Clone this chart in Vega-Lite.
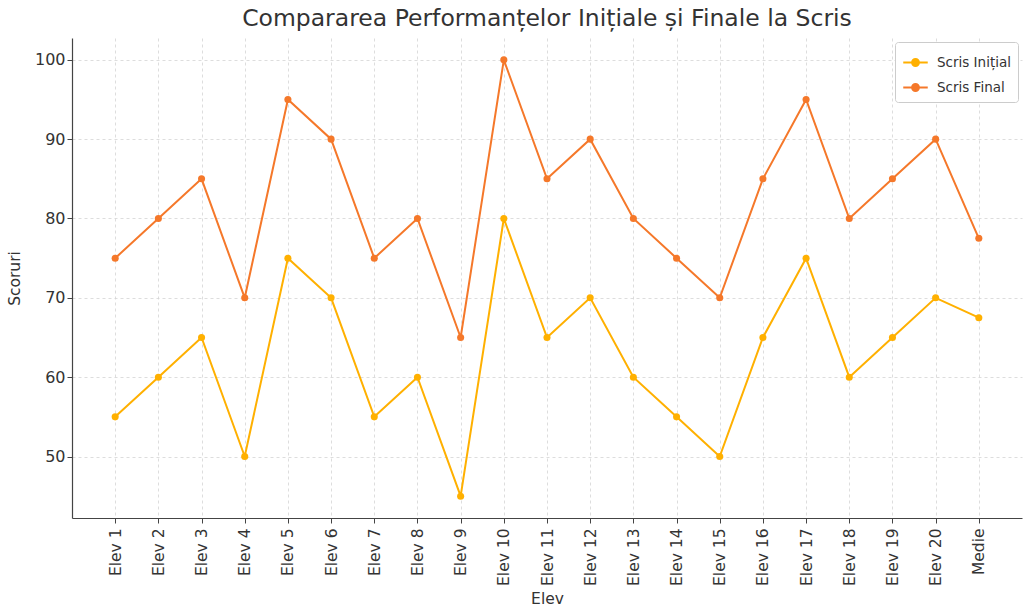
{
  "$schema": "https://vega.github.io/schema/vega-lite/v6.json",
  "autosize": "none",
  "width": 950,
  "height": 480,
  "padding": {"left": 72, "top": 38, "right": 2, "bottom": 92},
  "background": "white",
  "title": {"text": "Compararea Performanțelor Inițiale și Finale la Scris", "fontSize": 23.5, "font": "DejaVu Sans", "fontWeight": "normal", "color": "#333333", "offset": 8},
  "config": {
    "font": "DejaVu Sans",
    "view": {"stroke": null},
    "axis": {"labelFont": "DejaVu Sans", "titleFont": "DejaVu Sans", "titleFontWeight": "normal", "labelColor": "#333333", "titleColor": "#333333", "domainColor": "#444444", "tickColor": "#444444", "gridColor": "#d4d4d4", "gridDash": [3, 3], "gridWidth": 0.8, "domainWidth": 1.2}
  },
  "data": {"values": [
    {"elev": "Elev 1", "serie": "Scris Inițial", "scor": 55}, {"elev": "Elev 1", "serie": "Scris Final", "scor": 75},
    {"elev": "Elev 2", "serie": "Scris Inițial", "scor": 60}, {"elev": "Elev 2", "serie": "Scris Final", "scor": 80},
    {"elev": "Elev 3", "serie": "Scris Inițial", "scor": 65}, {"elev": "Elev 3", "serie": "Scris Final", "scor": 85},
    {"elev": "Elev 4", "serie": "Scris Inițial", "scor": 50}, {"elev": "Elev 4", "serie": "Scris Final", "scor": 70},
    {"elev": "Elev 5", "serie": "Scris Inițial", "scor": 75}, {"elev": "Elev 5", "serie": "Scris Final", "scor": 95},
    {"elev": "Elev 6", "serie": "Scris Inițial", "scor": 70}, {"elev": "Elev 6", "serie": "Scris Final", "scor": 90},
    {"elev": "Elev 7", "serie": "Scris Inițial", "scor": 55}, {"elev": "Elev 7", "serie": "Scris Final", "scor": 75},
    {"elev": "Elev 8", "serie": "Scris Inițial", "scor": 60}, {"elev": "Elev 8", "serie": "Scris Final", "scor": 80},
    {"elev": "Elev 9", "serie": "Scris Inițial", "scor": 45}, {"elev": "Elev 9", "serie": "Scris Final", "scor": 65},
    {"elev": "Elev 10", "serie": "Scris Inițial", "scor": 80}, {"elev": "Elev 10", "serie": "Scris Final", "scor": 100},
    {"elev": "Elev 11", "serie": "Scris Inițial", "scor": 65}, {"elev": "Elev 11", "serie": "Scris Final", "scor": 85},
    {"elev": "Elev 12", "serie": "Scris Inițial", "scor": 70}, {"elev": "Elev 12", "serie": "Scris Final", "scor": 90},
    {"elev": "Elev 13", "serie": "Scris Inițial", "scor": 60}, {"elev": "Elev 13", "serie": "Scris Final", "scor": 80},
    {"elev": "Elev 14", "serie": "Scris Inițial", "scor": 55}, {"elev": "Elev 14", "serie": "Scris Final", "scor": 75},
    {"elev": "Elev 15", "serie": "Scris Inițial", "scor": 50}, {"elev": "Elev 15", "serie": "Scris Final", "scor": 70},
    {"elev": "Elev 16", "serie": "Scris Inițial", "scor": 65}, {"elev": "Elev 16", "serie": "Scris Final", "scor": 85},
    {"elev": "Elev 17", "serie": "Scris Inițial", "scor": 75}, {"elev": "Elev 17", "serie": "Scris Final", "scor": 95},
    {"elev": "Elev 18", "serie": "Scris Inițial", "scor": 60}, {"elev": "Elev 18", "serie": "Scris Final", "scor": 80},
    {"elev": "Elev 19", "serie": "Scris Inițial", "scor": 65}, {"elev": "Elev 19", "serie": "Scris Final", "scor": 85},
    {"elev": "Elev 20", "serie": "Scris Inițial", "scor": 70}, {"elev": "Elev 20", "serie": "Scris Final", "scor": 90},
    {"elev": "Medie", "serie": "Scris Inițial", "scor": 67.5}, {"elev": "Medie", "serie": "Scris Final", "scor": 77.5}
  ]},
  "mark": {"type": "line", "strokeWidth": 2, "point": {"size": 50, "filled": true}},
  "encoding": {
    "x": {"field": "elev", "type": "ordinal", "sort": null, "scale": {"type": "point", "padding": 1},
      "axis": {"title": "Elev", "labelAngle": -90, "labelFontSize": 15.5, "titleFontSize": 15.5, "grid": true, "tickSize": 5, "labelPadding": 5, "titlePadding": 6}},
    "y": {"field": "scor", "type": "quantitative", "scale": {"domain": [42.25, 102.75], "nice": false, "zero": false},
      "axis": {"title": "Scoruri", "values": [50, 60, 70, 80, 90, 100], "labelFontSize": 16, "titleFontSize": 15.5, "grid": true, "tickSize": 5, "titlePadding": 12}},
    "color": {"field": "serie", "type": "nominal", "sort": ["Scris Inițial", "Scris Final"],
      "scale": {"domain": ["Scris Inițial", "Scris Final"], "range": ["#FFB000", "#F5782A"]},
      "legend": {"title": null, "orient": "top-right", "offset": 4, "labelFontSize": 13.5, "labelColor": "#333333", "fillColor": "white", "strokeColor": "#cccccc", "cornerRadius": 3, "padding": 7, "rowPadding": 4, "labelOffset": 8,
        "symbolType": "M-1,0H1M-0.28,0A0.28,0.28 0 1 1 0.28,0A0.28,0.28 0 1 1 -0.28,0Z", "symbolSize": 600, "symbolStrokeWidth": 2,
        "encode": {"symbols": {"update": {"fill": {"scale": "color", "field": "value"}, "fillOpacity": {"value": 1}}}}}}
  }
}
